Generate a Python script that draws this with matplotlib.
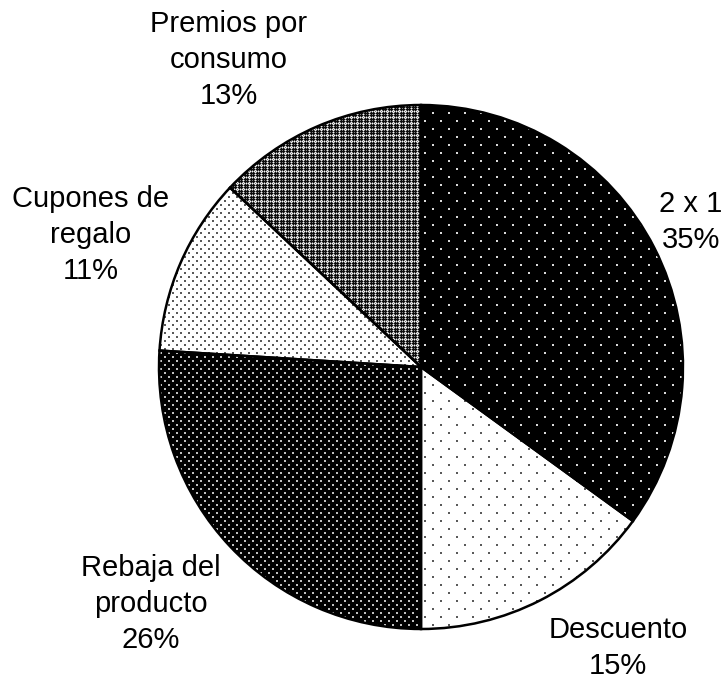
import numpy as np
import matplotlib
matplotlib.use("Agg")
import matplotlib.pyplot as plt

plt.rcParams["font.family"] = ["Liberation Sans", "DejaVu Sans"]

categories = ["2 x 1", "Descuento", "Rebaja del\nproducto", "Cupones de\nregalo", "Premios por\nconsumo"]
shares = [35, 15, 26, 11, 13]

W, H = 726, 681


def dot_texture(sx, sy, fg, bg, size=2):
    """Staggered dot lattice, one array pixel per figure pixel."""
    t = np.full((H, W), bg, dtype=float)
    for row, y in enumerate(range(0, H, sy)):
        off = (sx // 2) * (row % 2)
        for x in range(off, W, sx):
            t[y:y + size, x:x + size] = fg
    return t


def cross_texture():
    """Gray weave: dark crosses on mid gray with light centres."""
    tile = np.array([
        [0.50, 0.05, 0.50, 0.95, 0.50, 0.05],
        [0.05, 0.05, 0.05, 0.50, 0.05, 0.05],
        [0.50, 0.05, 0.50, 0.95, 0.50, 0.05],
        [0.95, 0.50, 0.95, 0.50, 0.95, 0.50],
        [0.50, 0.05, 0.50, 0.95, 0.50, 0.05],
        [0.05, 0.05, 0.05, 0.50, 0.05, 0.05],
    ])
    reps = (H // tile.shape[0] + 1, W // tile.shape[1] + 1)
    return np.tile(tile, reps)[:H, :W]


textures = [
    dot_texture(16, 8, 0.85, 0.0),   # sparse white dots on black
    dot_texture(16, 8, 0.35, 1.0),   # sparse black dots on white
    dot_texture(8, 4, 0.75, 0.0),    # dense white dots on black
    dot_texture(8, 4, 0.35, 1.0),    # dense black dots on white
    cross_texture(),
]

cx, cy, r = 421, H - 367, 262

fig = plt.figure(figsize=(W / 100, H / 100), dpi=100)
ax = fig.add_axes([0, 0, 1, 1])
wedges, _ = ax.pie(shares, startangle=90, counterclock=False, center=(cx, cy), radius=r,
                   colors=["none"] * len(shares),
                   wedgeprops=dict(edgecolor="black", linewidth=1.8))
for w, tex in zip(wedges, textures):
    w.set_zorder(2)
    im = ax.imshow(tex, cmap="gray", vmin=0, vmax=1, extent=(0, W, 0, H), origin="upper",
                   interpolation="nearest", zorder=1)
    im.set_clip_path(w)

ax.set_xlim(0, W); ax.set_ylim(0, H)
ax.set_aspect("equal")
ax.axis("off")

# label centres in pixel coordinates (from top-left)
label_pos = [(691, 222), (618, 648), (151, 604), (91, 235), (229, 60)]
for name, val, (x, y) in zip(categories, shares, label_pos):
    ax.text(x, H - y, f"{name}\n{val}%", ha="center", va="center", fontsize=21,
            linespacing=1.36, color="black", zorder=5)

fig.savefig("out.png", dpi=100)
